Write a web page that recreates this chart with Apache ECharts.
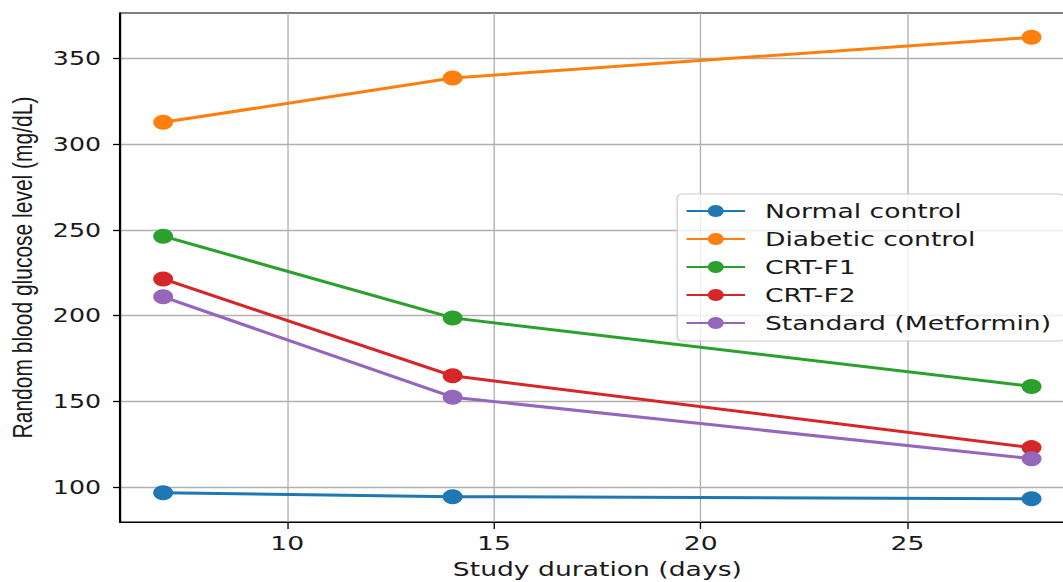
<!DOCTYPE html>
<html style="height: 100%">
<head>
    <meta charset="UTF-8">
    <title>Random blood glucose level</title>
</head>
<body style="height: 100%; margin: 0; background: #fff">
<div style="width: 1063px; height: 582px; overflow: hidden">
    <!-- the reference is a stretched figure, cut on the right: draw narrow, widen, clip -->
    <div id="container" style="width: 808px; height: 582px; transform: scaleX(1.3304); transform-origin: 0 0"></div>
</div>
<script src="https://cdn.jsdelivr.net/npm/echarts/dist/echarts.min.js"></script>
<script>
    var days = [7, 14, 28];
    var seriesNames = ['Normal control', 'Diabetic control', 'CRT-F1', 'CRT-F2', 'Standard (Metformin)'];
    var normalControl = [96.5, 94.3, 93.0];
    var diabeticControl = [312.7, 338.6, 362.3];
    var crtF1 = [246.3, 198.6, 158.6];
    var crtF2 = [221.3, 164.8, 122.9];
    var standardMetformin = [210.9, 152.3, 116.4];
    var xTicks = [10, 15, 20, 25];
    var yTicks = [100, 150, 200, 250, 300, 350];

    var colors = ['#1f77b4', '#ff7f0e', '#2ca02c', '#d62728', '#9467bd'];
    var allValues = [normalControl, diabeticControl, crtF1, crtF2, standardMetformin];

    var series = [];
    for (var i = 0; i < seriesNames.length; i++) {
        var pts = [];
        for (var j = 0; j < days.length; j++) {
            pts.push([days[j], allValues[i][j]]);
        }
        series.push({
            name: seriesNames[i],
            type: 'line',
            data: pts,
            symbol: 'circle',
            symbolSize: 15,
            showAllSymbol: true,
            lineStyle: {width: 3, color: colors[i]},
            itemStyle: {color: colors[i]},
            emphasis: {disabled: true}
        });
    }

    var font = 'DejaVu Sans';
    var myChart = echarts.init(document.getElementById('container'), null, {renderer: 'svg'});
    var option = {
        animation: false,
        color: colors,
        grid: {
            left: 90, right: 0, top: 13, bottom: 60,
            show: true, borderColor: '#000', borderWidth: 1.2,
            containLabel: false,
            outerBoundsMode: 'none'
        },
        legend: {
            orient: 'vertical',
            left: 509,
            top: 194,
            data: seriesNames,
            itemWidth: 44,
            itemHeight: 15,
            itemGap: 8,
            padding: [7, 10, 8, 6],
            backgroundColor: 'rgba(255,255,255,0.8)',
            borderColor: '#cccccc',
            borderWidth: 1,
            borderRadius: 4,
            textStyle: {
                fontFamily: font, fontSize: 20, color: '#1a1a1a',
                lineHeight: 20, padding: [0, 0, 0, 10]
            }
        },
        xAxis: {
            type: 'value',
            min: 5.95,
            max: 29.05,
            name: 'Study duration (days)',
            nameLocation: 'middle',
            nameGap: 37,
            nameTextStyle: {fontFamily: font, fontSize: 20, color: '#1a1a1a'},
            axisLine: {show: true, onZero: false, lineStyle: {color: '#000', width: 1.2}},
            axisTick: {show: true, length: 7, customValues: xTicks, lineStyle: {color: '#000', width: 1}},
            axisLabel: {customValues: xTicks, margin: 11, fontFamily: font, fontSize: 20, color: '#1a1a1a'},
            splitLine: {show: true, lineStyle: {color: '#b0b0b0', width: 1}}
        },
        yAxis: {
            type: 'value',
            min: 79.5,
            max: 376.5,
            name: 'Random blood glucose level (mg/dL)',
            nameLocation: 'middle',
            nameGap: 63,
            nameTextStyle: {fontFamily: 'Liberation Sans', fontSize: 21, color: '#1a1a1a'},
            axisLine: {show: true, onZero: false, lineStyle: {color: '#000', width: 1.2}},
            axisTick: {show: true, length: 5, customValues: yTicks, lineStyle: {color: '#000', width: 1.3}},
            axisLabel: {customValues: yTicks, margin: 14, fontFamily: font, fontSize: 19, color: '#1a1a1a'},
            splitLine: {show: true, lineStyle: {color: '#b0b0b0', width: 1.3}}
        },
        series: series
    };
    myChart.setOption(option);
</script>
</body>
</html>
